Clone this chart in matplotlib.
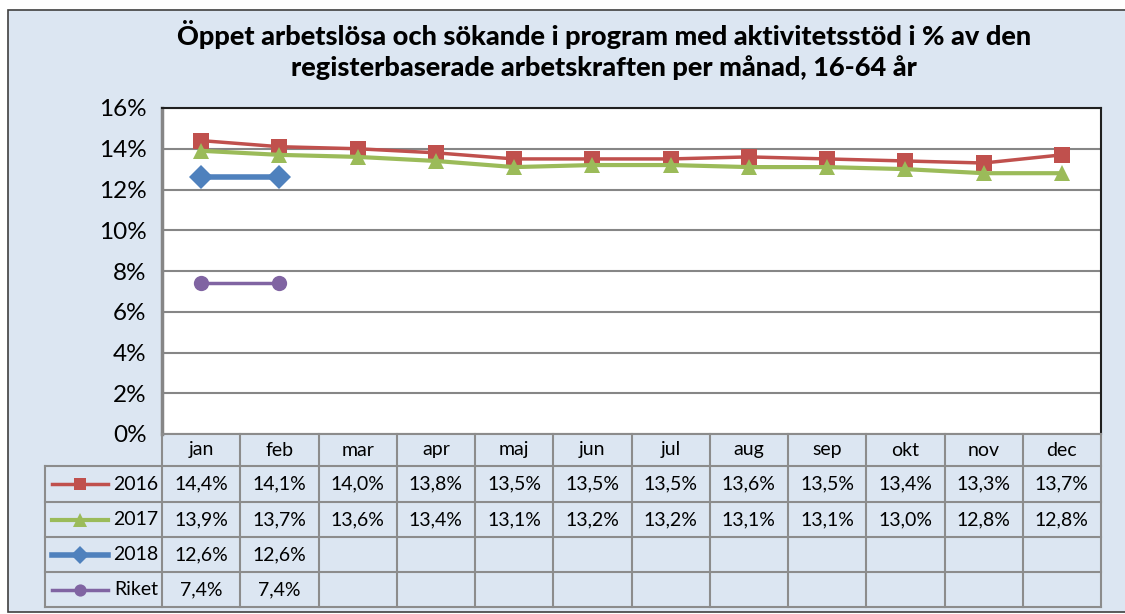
import matplotlib.pyplot as plt
from matplotlib.patches import Rectangle

months = ["jan", "feb", "mar", "apr", "maj", "jun", "jul", "aug", "sep", "okt", "nov", "dec"]
s2016 = [14.4, 14.1, 14.0, 13.8, 13.5, 13.5, 13.5, 13.6, 13.5, 13.4, 13.3, 13.7]
s2017 = [13.9, 13.7, 13.6, 13.4, 13.1, 13.2, 13.2, 13.1, 13.1, 13.0, 12.8, 12.8]
s2018 = [12.6, 12.6]
riket = [7.4, 7.4]
series_names = ["2016", "2017", "2018", "Riket"]
title = ("Öppet arbetslösa och sökande i program med aktivitetsstöd i % av den\n"
         "registerbaserade arbetskraften per månad, 16-64 år")

plt.rcParams['font.family'] = ['Lato', 'DejaVu Sans']

W, H = 1125, 614
BG = "#dce6f2"
GRID = "#868686"
styles = [
    dict(color="#c0504d", marker="s", lw=2.5, ms=11),
    dict(color="#9bbb59", marker="^", lw=3, ms=12),
    dict(color="#4f81bd", marker="D", lw=4, ms=12),
    dict(color="#8064a2", marker="o", lw=2.5, ms=11),
]

fig = plt.figure(figsize=(W / 100, H / 100), dpi=100)
fig.patch.set_facecolor("white")
fig.add_artist(Rectangle((8 / W, 2 / H), 1.2, (H - 12) / H, transform=fig.transFigure,
                         facecolor=BG, edgecolor="#404040", lw=1.2, zorder=0))

fig.text(604 / W, 1 - 50 / H, title, ha="center", va="center", fontsize=19.5,
         fontweight="black", linespacing=1.3)

# plot area
x0, x1, ytop, ybot = 162, 1101, 108, 434
ax = fig.add_axes([x0 / W, 1 - ybot / H, (x1 - x0) / W, (ybot - ytop) / H])
ax.set_facecolor("white")
ax.set_xlim(-0.5, 11.5)
ax.set_ylim(0, 16)
ax.set_yticks(range(0, 17, 2))
ax.set_yticklabels([f"{v}%" for v in range(0, 17, 2)], fontsize=17.5)
ax.set_xticks([])
ax.tick_params(axis="y", length=0, pad=11)
ax.grid(axis="y", color=GRID, lw=1.5)
ax.set_axisbelow(True)
for side in ["top", "right"]:
    ax.spines[side].set_color("#202020")
    ax.spines[side].set_linewidth(1.5)
ax.spines["left"].set_color(GRID)
ax.spines["left"].set_linewidth(2.5)
ax.spines["bottom"].set_visible(False)

data = [s2016, s2017, s2018, riket]
for vals, st in zip(data, styles):
    ax.plot(range(len(vals)), vals, color=st["color"], lw=st["lw"], marker=st["marker"],
            ms=st["ms"], markeredgewidth=0, clip_on=False, zorder=3)

# data table
tleft, tbot = 45, 607
col = (x1 - x0) / 12
legw = (x0 - tleft) / col
tax = fig.add_axes([tleft / W, 1 - tbot / H, (x1 - tleft) / W, (tbot - ybot) / H])
tax.set_xlim(-0.5 - legw, 11.5)
row_h = [32, 36, 35, 35, 35]
edges = [0]
for h in row_h:
    edges.append(edges[-1] + h)
tax.set_ylim(edges[-1], 0)
tax.axis("off")
tax.patch.set_alpha(0)

lc = "#8c8c8c"
# vertical lines
for i in range(13):
    tax.plot([i - 0.5, i - 0.5], [0, edges[-1]], color=lc, lw=1.5, clip_on=False)
tax.plot([-0.5 - legw] * 2, [edges[1], edges[-1]], color=lc, lw=1.5, clip_on=False)
# horizontal lines
for k, e in enumerate(edges):
    xs = -0.5 - legw if k >= 1 else -0.5
    tax.plot([xs, 11.5], [e, e], color=lc, lw=1.5, clip_on=False)

fs = 14
for i, m in enumerate(months):
    tax.text(i, (edges[0] + edges[1]) / 2, m, ha="center", va="center", fontsize=fs)

for r, (vals, name, st) in enumerate(zip(data, series_names, styles)):
    yc = (edges[r + 1] + edges[r + 2]) / 2
    for i, v in enumerate(vals):
        tax.text(i, yc, f"{v:.1f}%".replace(".", ","), ha="center", va="center", fontsize=fs)
    lx0 = -0.5 - legw + 0.09
    lx1 = lx0 + 0.72
    tax.plot([lx0, lx1], [yc, yc], color=st["color"], lw=st["lw"], clip_on=False)
    tax.plot([(lx0 + lx1) / 2], [yc], color=st["color"], marker=st["marker"],
             ms=st["ms"] * 0.8, markeredgewidth=0, clip_on=False)
    tax.text(-0.5 - 0.05, yc, name, ha="right", va="center", fontsize=fs)

fig.savefig("out.png", dpi=100)
